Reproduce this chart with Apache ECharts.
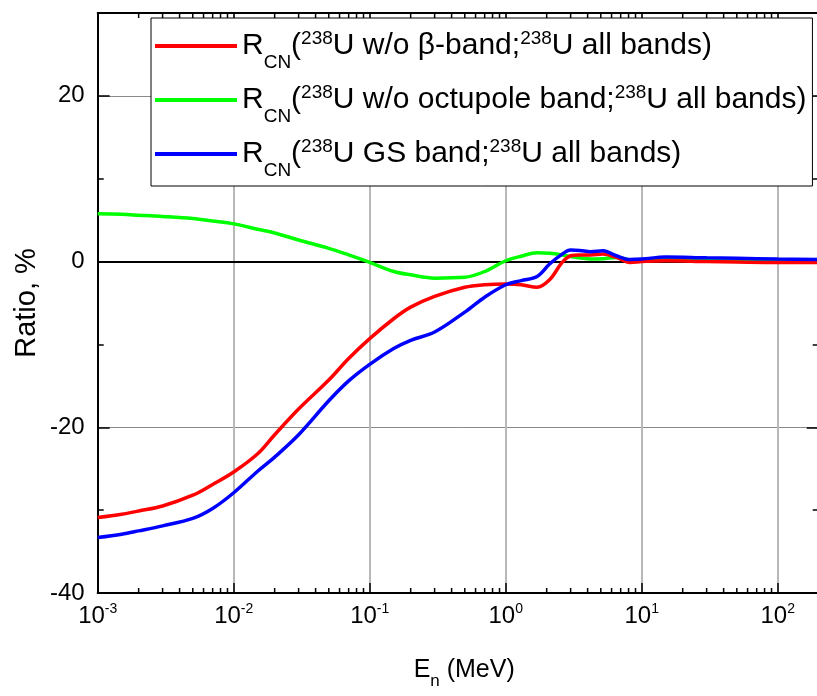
<!DOCTYPE html>
<html>
<head>
<meta charset="utf-8">
<script src="https://cdn.jsdelivr.net/npm/echarts@6/dist/echarts.min.js"></script>
<style>
html,body{margin:0;padding:0;background:#fff;overflow:hidden;width:817px;height:696px;}
#chart{width:822px;height:696px;}
</style>
</head>
<body>
<div id="chart"></div>
<script>
// Neutron energy (MeV)
const energy = [0.001, 0.0015, 0.002, 0.003, 0.005, 0.007, 0.01, 0.015, 0.02, 0.03, 0.05, 0.07, 0.1, 0.15, 0.2, 0.3, 0.5, 0.7, 1.0, 1.3, 1.7, 2.1, 2.6, 3.0, 3.5, 4.2, 5.2, 6.5, 8.2, 10, 15, 30, 50, 100, 200];
// Ratios (%)
const ratioNoBeta = [-30.9, -30.5, -30.1, -29.5, -28.2, -26.9, -25.4, -23.2, -20.9, -17.8, -14.3, -11.7, -9.3, -6.9, -5.5, -4.2, -3.1, -2.8, -2.7, -2.8, -3.1, -2.2, -0.1, 0.7, 0.8, 0.8, 0.9, 0.5, -0.1, 0.0, 0.1, 0.0, -0.05, -0.1, -0.1];
const ratioNoOctupole = [5.76, 5.7, 5.6, 5.45, 5.2, 4.9, 4.55, 3.9, 3.45, 2.6, 1.6, 0.8, -0.1, -1.2, -1.6, -2.0, -1.9, -1.2, 0.1, 0.65, 1.05, 1.0, 0.8, 0.6, 0.45, 0.3, 0.35, 0.5, 0.2, 0.1, 0.25, 0.2, 0.15, 0.15, 0.15];
const ratioGS = [-33.3, -32.9, -32.5, -31.9, -31.0, -29.8, -27.9, -25.3, -23.6, -20.9, -16.8, -14.4, -12.4, -10.5, -9.5, -8.5, -6.1, -4.3, -2.8, -2.3, -1.8, -0.3, 0.9, 1.4, 1.35, 1.2, 1.3, 0.7, 0.25, 0.3, 0.55, 0.45, 0.4, 0.3, 0.25];

const seriesNames = [
  'R_CN(238U w/o β-band;238U all bands)',
  'R_CN(238U w/o octupole band;238U all bands)',
  'R_CN(238U GS band;238U all bands)'
];
const legendRich = [
  '{a|R}{b|CN}{a|(}{c|238}{a|U w/o β-band;}{c|238}{a|U all bands)}',
  '{a|R}{b|CN}{a|(}{c|238}{a|U w/o octupole band;}{c|238}{a|U all bands)}',
  '{a|R}{b|CN}{a|(}{c|238}{a|U GS band;}{c|238}{a|U all bands)}'
];
const yTickLabels = [-40, -20, 0, 20];
const xMin = 0.001, xMax = 200, yMin = -40, yMax = 30;

// minor tick positions of the log axis (2..9 x decade)
const xMinorTicks = [];
for (let e = -3; e <= 2; e++) {
  for (let k = 2; k <= 9; k++) {
    const v = k * Math.pow(10, e);
    if (v < xMax) xMinorTicks.push(v);
  }
}

const FONT = 'Liberation Sans, Arial, sans-serif';
const chart = echarts.init(document.getElementById('chart'), null, {renderer: 'canvas'});

function pairs(ys) { return energy.map((e, i) => [e, ys[i]]); }

const option = {
  backgroundColor: '#fff',
  animation: false,
  grid: {left: 97.7, top: 13, width: 721, height: 580, outerBoundsMode: 'none', containLabel: false},
  legend: {
    data: seriesNames,
    orient: 'vertical',
    left: 151,
    top: 18,
    padding: [2, 6, 6, 4],
    itemGap: 2,
    itemWidth: 82,
    itemHeight: 4,
    icon: 'rect',
    backgroundColor: '#fff',
    borderColor: '#000',
    borderWidth: 1,
    borderRadius: 0,
    selectedMode: false,
    formatter: function (name) { return legendRich[seriesNames.indexOf(name)]; },
    textStyle: {
      color: '#000',
      fontFamily: FONT,
      rich: {
        a: {fontSize: 30, fontFamily: FONT, color: '#000', lineHeight: 36},
        b: {fontSize: 19, fontFamily: FONT, color: '#000', lineHeight: 36, padding: [33, 0, 0, 0]},
        c: {fontSize: 19, fontFamily: FONT, color: '#000', lineHeight: 36, padding: [0, 0, 14, 0]}
      }
    }
  },
  xAxis: [
    {
      type: 'log', logBase: 10, min: xMin, max: xMax,
      gridIndex: 0, position: 'bottom',
      name: '{a|E}{b|n}{a| (MeV)}',
      nameLocation: 'middle', nameGap: 61, nameMoveOverlap: false,
      nameTextStyle: {
        rich: {
          a: {fontSize: 25, fontFamily: FONT, color: '#000', lineHeight: 32},
          b: {fontSize: 17, fontFamily: FONT, color: '#000', lineHeight: 32, padding: [22, 0, 0, 0]}
        },
        padding: [0, 0, 0, 12]
      },
      axisLine: {show: true, onZero: false, lineStyle: {color: '#000', width: 2}},
      axisTick: {show: true, inside: true, length: 10, lineStyle: {color: '#000', width: 1.5}},
      minorTick: {show: false},
      splitLine: {show: true, lineStyle: {color: '#b8b8b8', width: 2}},
      axisLabel: {
        margin: 10,
        showMaxLabel: false,
        formatter: function (v) {
          const ex = Math.round(Math.log10(v));
          if (Math.abs(Math.pow(10, ex) - v) / v > 1e-6) return '';
          return '{m|10}{s|' + ex + '}';
        },
        rich: {
          m: {fontSize: 24, fontFamily: FONT, color: '#000', lineHeight: 26},
          s: {fontSize: 14, fontFamily: FONT, color: '#000', lineHeight: 26, padding: [0, 0, 13, 0]}
        }
      }
    },
    {
      type: 'log', logBase: 10, min: xMin, max: xMax,
      gridIndex: 0, position: 'top',
      axisLine: {show: true, onZero: false, lineStyle: {color: '#000', width: 2}},
      axisTick: {show: true, inside: true, length: 10, lineStyle: {color: '#000', width: 1.5}},
      splitLine: {show: false},
      axisLabel: {show: false}
    }
  ],
  yAxis: [
    {
      type: 'value', min: yMin, max: yMax, interval: 20, position: 'left',
      name: 'Ratio, %', nameLocation: 'middle', nameGap: 56, nameMoveOverlap: false,
      nameTextStyle: {fontSize: 29, fontFamily: FONT, color: '#000'},
      axisLine: {show: true, onZero: false, lineStyle: {color: '#000', width: 2}},
      axisTick: {show: true, inside: true, length: 12, lineStyle: {color: '#000', width: 1.5}},
      splitLine: {show: true, lineStyle: {color: '#8a8a8a', width: 1}},
      axisLabel: {
        margin: 13, fontSize: 24, fontFamily: FONT, color: '#000',
        formatter: function (v) { return yTickLabels.indexOf(v) >= 0 ? String(v) : ''; }
      }
    },
    {
      type: 'value', min: yMin, max: yMax, interval: 10, position: 'left',
      axisLine: {show: false},
      axisTick: {show: true, inside: true, length: 6, lineStyle: {color: '#000', width: 1.5}},
      splitLine: {show: false}, axisLabel: {show: false}
    },
    {
      type: 'value', min: yMin, max: yMax, interval: 20, position: 'right',
      axisLine: {show: true, onZero: false, lineStyle: {color: '#000', width: 2}},
      axisTick: {show: true, inside: true, length: 12, lineStyle: {color: '#000', width: 1.5}},
      splitLine: {show: false}, axisLabel: {show: false}
    },
    {
      type: 'value', min: yMin, max: yMax, interval: 10, position: 'right',
      axisLine: {show: false},
      axisTick: {show: true, inside: true, length: 6, lineStyle: {color: '#000', width: 1.5}},
      splitLine: {show: false}, axisLabel: {show: false}
    }
  ],
  series: [
    {
      type: 'custom', silent: true, xAxisIndex: 0, yAxisIndex: 0,
      data: xMinorTicks.map(v => [v, 0]),
      encode: {x: 0, y: 1},
      clip: false, z: 3,
      renderItem: function (params, api) {
        const v = api.value(0);
        const b = api.coord([v, yMin]);
        const t = api.coord([v, yMax]);
        return {
          type: 'group',
          children: [
            {type: 'line', shape: {x1: b[0], y1: b[1], x2: b[0], y2: b[1] - 5}, style: {stroke: '#000', lineWidth: 1.5}},
            {type: 'line', shape: {x1: t[0], y1: t[1], x2: t[0], y2: t[1] + 5}, style: {stroke: '#000', lineWidth: 1.5}}
          ]
        };
      }
    },
    {
      name: seriesNames[1], type: 'line', xAxisIndex: 0, yAxisIndex: 0,
      data: pairs(ratioNoOctupole), showSymbol: false, symbol: 'none', smooth: 0.35,
      lineStyle: {color: '#00ff00', width: 3.5}, itemStyle: {color: '#00ff00'}, z: 2,
      markLine: {
        silent: true, symbol: 'none', z: 1, animation: false,
        label: {show: false},
        lineStyle: {color: '#000', width: 2, type: 'solid'},
        data: [{yAxis: 0}]
      }
    },
    {
      name: seriesNames[0], type: 'line', xAxisIndex: 0, yAxisIndex: 0,
      data: pairs(ratioNoBeta), showSymbol: false, symbol: 'none', smooth: 0.35,
      lineStyle: {color: '#ff0000', width: 3.5}, itemStyle: {color: '#ff0000'}, z: 3
    },
    {
      name: seriesNames[2], type: 'line', xAxisIndex: 0, yAxisIndex: 0,
      data: pairs(ratioGS), showSymbol: false, symbol: 'none', smooth: 0.35,
      lineStyle: {color: '#0000ff', width: 3.5}, itemStyle: {color: '#0000ff'}, z: 4
    }
  ]
};
chart.setOption(option);
</script>
</body>
</html>
